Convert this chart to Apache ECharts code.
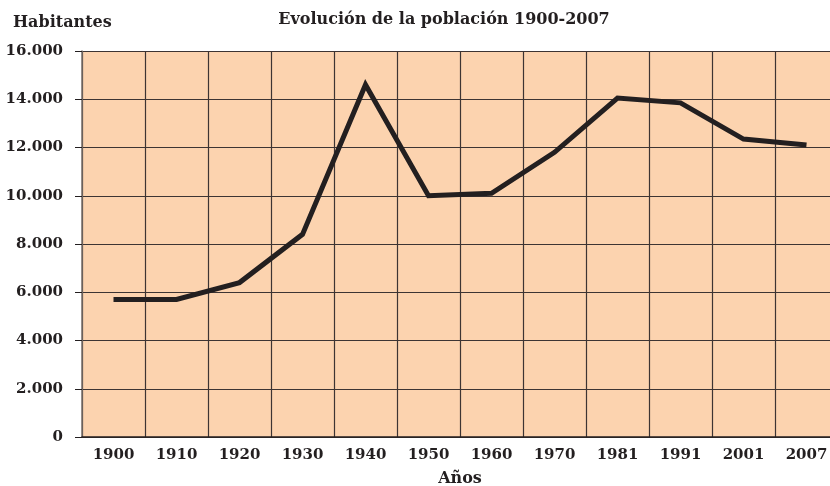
<!DOCTYPE html>
<html>
<head>
<meta charset="utf-8">
<script src="https://cdn.jsdelivr.net/npm/echarts@6/dist/echarts.min.js"></script>
<style>
  html, body { margin: 0; padding: 0; background: #fff; }
  #chart { width: 830px; height: 486px; }
</style>
</head>
<body>
<div id="chart"></div>
<script>
const years = ['1900', '1910', '1920', '1930', '1940', '1950', '1960', '1970', '1981', '1991', '2001', '2007']
const habitantes = [5700, 5700, 6400, 8400, 14600, 10000, 10100, 11800, 14050, 13850, 12350, 12100]

const font = "'DejaVu Serif', 'Liberation Serif', serif"
const ink = '#231f20'

const myChart = echarts.init(document.getElementById('chart'))
myChart.setOption({
  backgroundColor: '#fff',
  animation: false,
  title: [
    {
      text: 'Evolución de la población 1900-2007',
      left: 439, top: 7, textAlign: 'center',
      textStyle: { fontFamily: font, fontWeight: 'bold', fontSize: 16, color: ink }
    },
    {
      text: 'Habitantes',
      left: 8, top: 10,
      textStyle: { fontFamily: font, fontWeight: 'bold', fontSize: 16, color: ink }
    }
  ],
  grid: { left: 82, top: 51, width: 756, height: 386, containLabel: false, outerBoundsMode: 'none',
    show: true, backgroundColor: '#fcd3af', borderWidth: 0 },
  xAxis: {
    type: 'category',
    data: years,
    boundaryGap: true,
    name: 'Años',
    nameLocation: 'middle',
    nameGap: 34,
    nameTextStyle: { fontFamily: font, fontWeight: 'bold', fontSize: 16, color: ink },
    axisLine: { lineStyle: { color: ink, width: 1.5 } },
    axisTick: { show: false },
    axisLabel: { fontFamily: font, fontWeight: 'bold', fontSize: 15, color: ink, margin: 11 },
    splitLine: { show: true, lineStyle: { color: '#3d3433', width: 1.2 } }
  },
  yAxis: {
    type: 'value',
    min: 0, max: 16000, interval: 2000,
    axisLine: { show: true, lineStyle: { color: '#7a6f6a', width: 1.5 } },
    axisTick: { show: true, length: 7, lineStyle: { color: ink } },
    axisLabel: {
      fontFamily: font, fontWeight: 'bold', fontSize: 15, color: ink, margin: 19,
      formatter: v => v === 0 ? '0' : (v / 1000).toFixed(3)
    },
    splitLine: { show: true, lineStyle: { color: '#3d3433', width: 1.2 } }
  },
  series: [
    {
      type: 'line',
      data: habitantes,
      symbol: 'none',
      lineStyle: { color: ink, width: 5, join: 'miter' }
    }
  ]
})
</script>
</body>
</html>
